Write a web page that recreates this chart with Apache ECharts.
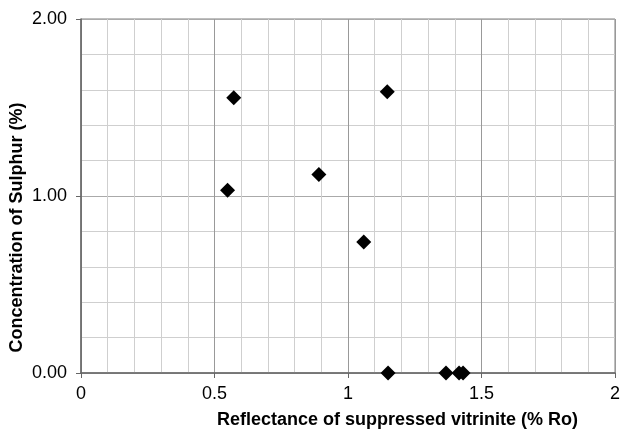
<!DOCTYPE html>
<html><head><meta charset="utf-8">
<script src="https://cdn.jsdelivr.net/npm/echarts@6/dist/echarts.min.js"></script>
<style>html,body{margin:0;padding:0;background:#fff}#c{width:620px;height:434px}</style>
</head><body><div id="c"></div>
<script>
var reflectance = [0.572, 0.549, 0.891, 1.147, 1.059, 1.150, 1.367, 1.416, 1.431];
var sulphur     = [1.555, 1.032, 1.122, 1.589, 0.740, 0.000, 0.000, 0.000, 0.000];
var xTitle = 'Reflectance of suppressed vitrinite (% Ro)';
var yTitle = 'Concentration of Sulphur (%)';

var pts = reflectance.map(function(x,i){return [x, sulphur[i]];});
var chart = echarts.init(document.getElementById('c'), null, {renderer:'canvas'});
var font = 'Liberation Sans, Arial, sans-serif';
chart.setOption({
  animation:false,
  backgroundColor:'#fff',
  grid:{left:81, top:19, right:5, bottom:61, show:true, borderColor:'#7f7f7f', borderWidth:1,
        containLabel:false, outerBoundsMode:'none'},
  xAxis:{
    type:'value', min:0, max:2, interval:0.5,
    name:xTitle, nameLocation:'middle', nameGap:38,
    nameTextStyle:{fontFamily:font, fontSize:18, fontWeight:'bold', color:'#000', padding:[0,0,0,99]},
    axisLine:{show:true, lineStyle:{color:'#666', width:1.5}},
    axisTick:{show:true, length:5, lineStyle:{color:'#666'}},
    axisLabel:{fontFamily:font, fontSize:18, color:'#000', margin:12,
      formatter:function(v){return String(v);}},
    splitLine:{show:true, lineStyle:{color:'#999', width:1}},
    minorTick:{show:false, splitNumber:5},
    minorSplitLine:{show:true, lineStyle:{color:'#cfcfcf', width:1}}
  },
  yAxis:{
    type:'value', min:0, max:2, interval:1,
    name:yTitle, nameLocation:'middle', nameGap:55, nameRotate:90, nameMoveOverlap:false,
    nameTextStyle:{fontFamily:font, fontSize:18, fontWeight:'bold', color:'#000', padding:[0,63,0,0]},
    axisLine:{show:true, lineStyle:{color:'#666', width:1.5}},
    axisTick:{show:true, length:5, lineStyle:{color:'#666'}},
    axisLabel:{fontFamily:font, fontSize:18, color:'#000', margin:14,
      formatter:function(v){return v.toFixed(2);}},
    splitLine:{show:true, lineStyle:{color:'#aaa', width:1}},
    minorTick:{show:false, splitNumber:5},
    minorSplitLine:{show:true, lineStyle:{color:'#cfcfcf', width:1}}
  },
  series:[{
    type:'scatter', data:pts, symbol:'diamond', symbolSize:[15,15],
    itemStyle:{color:'#000', opacity:1}, clip:false, z:5
  }]
});
</script></body></html>
